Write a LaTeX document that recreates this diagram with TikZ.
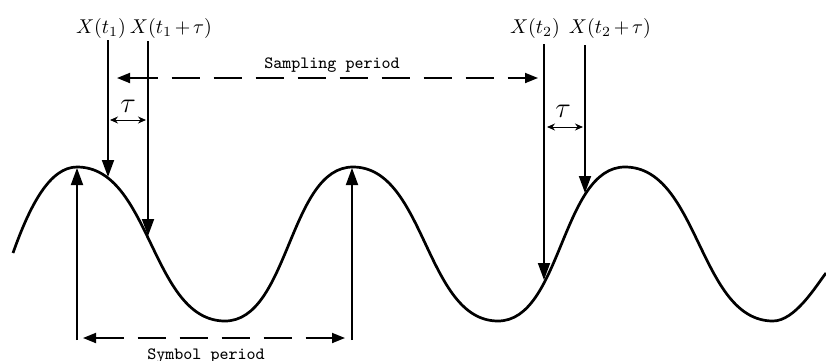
\documentclass[tikz,border=0pt]{standalone}
\usetikzlibrary{arrows.meta}
\tikzset{sampfig/.style={x=0.5pt,y=-0.5pt},
  sig/.style={line width=1.35pt},
  probe/.style={line width=0.9pt,-{Triangle[length=8.5pt,width=6pt]}},
  span/.style={line width=0.9pt,dash pattern=on 14pt off 7pt,
    {Triangle[length=6.5pt,width=5pt]}-{Triangle[length=6.5pt,width=5pt]}},
  lag/.style={line width=0.5pt,{Stealth[length=4pt,width=3.5pt]}-{Stealth[length=4pt,width=3.5pt]}},
  lbl/.style={font=\fontsize{8.6}{10}\selectfont\ttfamily,anchor=base},
  tau/.style={font=\fontsize{15}{18}\selectfont,anchor=base}}

\begin{document}
\begin{tikzpicture}[sampfig]
    \useasboundingbox (0,0) rectangle (826,360);
    % received signal
    \draw[sig] (13,253) .. controls (30,205) and (50,167) .. (77,167)
      .. controls (151,167) and (151,321) .. (225,321)
      .. controls (289,321) and (289,167) .. (353,167)
      .. controls (425.5,167) and (425.5,321) .. (498,321)
      .. controls (561.5,321) and (561.5,167) .. (625,167)
      .. controls (699,167) and (699,321) .. (773,321)
      .. controls (795,321) and (816,286) .. (826,273);
    % sampling instants
    \node[anchor=base] (x1)  at (101,33) {$X(t_1)$};
    \node[anchor=base] (x1t) at (171,33) {$X(t_1\mkern-1.5mu+\mkern-1.5mu\tau)$};
    \node[anchor=base] (x2)  at (535,33) {$X(t_2)$};
    \node[anchor=base] (x2t) at (610,33) {$X(t_2\mkern-1.5mu+\mkern-1.5mu\tau)$};
    \coordinate (s1a) at (108,40);  \coordinate (s1b) at (108,177);
    \coordinate (t1a) at (148,41);  \coordinate (t1b) at (148,236);
    \coordinate (s2a) at (544,44);  \coordinate (s2b) at (544,280);
    \coordinate (t2a) at (585,45);  \coordinate (t2b) at (585,193);
    \foreach \a/\b in {s1a/s1b,t1a/t1b,s2a/s2b,t2a/t2b}
      \draw[probe] (\a) -- (\b);
    % symbol peaks
    \coordinate (p1a) at (77,340);  \coordinate (p1b) at (77,168);
    \coordinate (p2a) at (352,340); \coordinate (p2b) at (352,168);
    \draw[probe] (p1a) -- (p1b);
    \draw[probe] (p2a) -- (p2b);
    % periods
    \coordinate (sp1) at (117,78);  \coordinate (sp2) at (538,78);
    \draw[span] (sp1) -- (sp2);
    \node[lbl] (splbl) at (332,68) {Sampling period};
    \coordinate (yp1) at (83,338);  \coordinate (yp2) at (345,338);
    \draw[span] (yp1) -- (yp2);
    \node[lbl] (yplbl) at (206,359) {Symbol period};
    % lag tau
    \node[tau] (tau1) at (128,112) {$\tau$};
    \coordinate (l1a) at (110,120); \coordinate (l1b) at (146,120);
    \draw[lag] (l1a) -- (l1b);
    \node[tau] (tau2) at (563,117) {$\tau$};
    \coordinate (l2a) at (547,127); \coordinate (l2b) at (583,127);
    \draw[lag] (l2a) -- (l2b);
\end{tikzpicture}
\end{document}
